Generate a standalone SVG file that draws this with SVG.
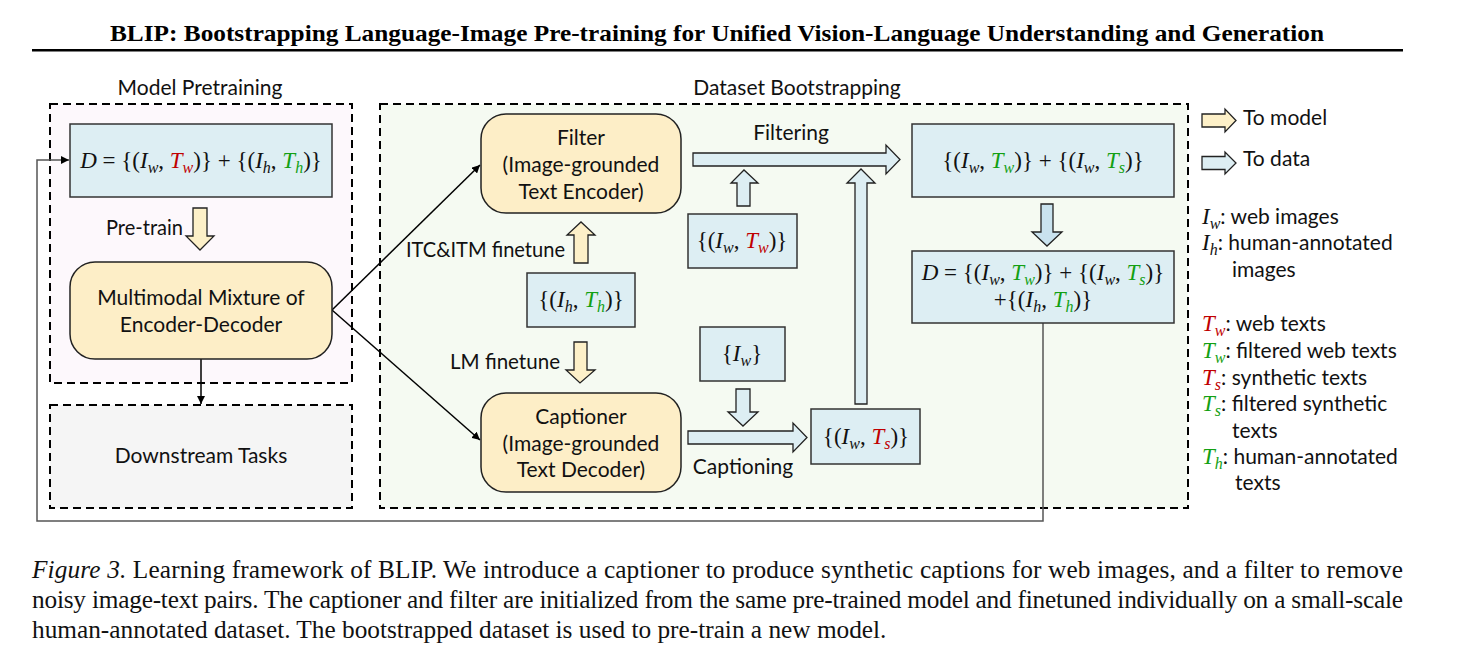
<svg xmlns="http://www.w3.org/2000/svg" width="1468" height="672" viewBox="0 0 1468 672">
<defs>
<style>
.t{font-family:"Lato","Open Sans","Liberation Sans",sans-serif;font-size:21px;fill:#111}
.m{font-family:"Liberation Serif","DejaVu Serif",serif;font-size:23px;fill:#111}
.i{font-style:italic}
.s{font-style:italic;font-size:16px}
.r{fill:#c00000}
.g{fill:#13a013}
.cap{font-family:"Liberation Serif",serif;font-size:25.3px;fill:#111}
.dash{stroke:#000;stroke-width:2;stroke-dasharray:8 5}
.bb{fill:#ddeef3;stroke:#333;stroke-width:1.5}
.yb{fill:#fdeec7;stroke:#222;stroke-width:1.5}
.ya{fill:#fdf0c8;stroke:#222;stroke-width:1.3}
.ba{fill:#ddeef3;stroke:#222;stroke-width:1.3}
.con{fill:none;stroke:#000;stroke-width:1.5}
</style>
<marker id="ah" viewBox="0 0 10 10" refX="10" refY="5" markerWidth="8" markerHeight="8" markerUnits="userSpaceOnUse" orient="auto">
<path d="M0,0 L10,5 L0,10 z" fill="#000"/>
</marker>
</defs>
<rect width="1468" height="672" fill="#fff"/>

<text x="717" y="41" text-anchor="middle" font-family="Liberation Serif, serif" font-weight="bold" font-size="23" textLength="1214" lengthAdjust="spacingAndGlyphs" fill="#000">BLIP: Bootstrapping Language-Image Pre-training for Unified Vision-Language Understanding and Generation</text>
<rect x="32" y="49" width="1371" height="2.5" fill="#000"/>

<!-- group containers -->
<g id="model-pretraining">
<rect x="50" y="104" width="302" height="279" fill="#fdf8fc" class="dash"/>
<text class="t" x="200" y="95" text-anchor="middle">Model Pretraining</text>
</g>
<g id="downstream">
<rect x="50" y="405" width="302" height="103" fill="#f5f5f5" class="dash"/>
<text class="t" x="201" y="463" text-anchor="middle">Downstream Tasks</text>
</g>
<g id="dataset-bootstrapping">
<rect x="380" y="104" width="808" height="404" fill="#f5faf2" class="dash"/>
<text class="t" x="797" y="95" text-anchor="middle">Dataset Bootstrapping</text>
</g>

<!-- connectors -->
<g id="connectors">
<polyline class="con" points="1043,323 1043,521 37,521 37,160 69,160" style="stroke:#555" marker-end="url(#ah)"/>
<line class="con" x1="201" y1="359" x2="201" y2="404" marker-end="url(#ah)"/>
<line class="con" x1="332" y1="310" x2="480" y2="165" marker-end="url(#ah)"/>
<line class="con" x1="332" y1="310" x2="480" y2="440" marker-end="url(#ah)"/>
<!-- block arrows -->
<polygon class="ya" points="193,208 207,208 207,236 214,236 200,250 186,236 193,236"/>
<polygon class="ya" points="574,263 588,263 588,235 595,235 581,222 567,235 574,235"/>
<polygon class="ya" points="574,342 587,342 587,370 595,370 580,383 566,370 574,370"/>
<polygon class="ba" points="693,153 886,153 886,145 900,159.5 886,174 886,166 693,166"/>
<polygon class="ba" points="688,431 793,431 793,423 807,437.5 793,452 793,444 688,444"/>
<polygon class="ba" points="737,206 750,206 750,183 758,183 744,170 731,183 737,183"/>
<polygon class="ba" points="736,389 750,389 750,412 758,412 743,426 728,412 736,412"/>
<polygon class="ba" points="855,404 867,404 867,183 875,183 861,169 847,183 855,183"/>
<polygon class="ba" points="1041,204 1053,204 1053,232 1062,232 1047,246 1032,232 1041,232" style="fill:#c9e2ee"/>
<text class="t" x="106" y="235" textLength="77" lengthAdjust="spacingAndGlyphs">Pre-train</text>
<text class="t" x="406" y="257" textLength="159" lengthAdjust="spacingAndGlyphs">ITC&amp;ITM finetune</text>
<text class="t" x="450" y="369" textLength="110" lengthAdjust="spacingAndGlyphs">LM finetune</text>
<text class="t" x="791" y="140" text-anchor="middle">Filtering</text>
<text class="t" x="743" y="474" text-anchor="middle">Captioning</text>
</g>

<!-- nodes -->
<g id="data-d">
<rect class="bb" x="70" y="124" width="262" height="73"/>
<text class="m" x="201" y="168" text-anchor="middle"><tspan class="i">D</tspan> = {(<tspan class="i">I</tspan><tspan class="s" dy="5">w</tspan><tspan dy="-5">, </tspan><tspan class="i r">T</tspan><tspan class="s r" dy="5">w</tspan><tspan dy="-5">)} + {(</tspan><tspan class="i">I</tspan><tspan class="s" dy="5">h</tspan><tspan dy="-5">, </tspan><tspan class="i g">T</tspan><tspan class="s g" dy="5">h</tspan><tspan dy="-5">)}</tspan></text>
</g>
<g id="mmed">
<rect class="yb" x="70" y="262" width="262" height="97" rx="25"/>
<text class="t" x="201" y="305" text-anchor="middle">Multimodal Mixture of</text>
<text class="t" x="201" y="332" text-anchor="middle">Encoder-Decoder</text>
</g>
<g id="filter">
<rect class="yb" x="481" y="114" width="200" height="99" rx="25"/>
<text class="t" x="581" y="145" text-anchor="middle">Filter</text>
<text class="t" x="581" y="172" text-anchor="middle">(Image-grounded</text>
<text class="t" x="581" y="199" text-anchor="middle">Text Encoder)</text>
</g>
<g id="captioner">
<rect class="yb" x="481" y="393" width="200" height="99" rx="25"/>
<text class="t" x="581" y="424" text-anchor="middle">Captioner</text>
<text class="t" x="581" y="451" text-anchor="middle">(Image-grounded</text>
<text class="t" x="581" y="477" text-anchor="middle">Text Decoder)</text>
</g>
<g id="human-data">
<rect class="bb" x="527" y="273" width="108" height="54"/>
<text class="m" x="581" y="307" text-anchor="middle">{(<tspan class="i">I</tspan><tspan class="s" dy="5">h</tspan><tspan dy="-5">, </tspan><tspan class="i g">T</tspan><tspan class="s g" dy="5">h</tspan><tspan dy="-5">)}</tspan></text>
</g>
<g id="web-data">
<rect class="bb" x="688" y="214" width="109" height="54"/>
<text class="m" x="742" y="248" text-anchor="middle">{(<tspan class="i">I</tspan><tspan class="s" dy="5">w</tspan><tspan dy="-5">, </tspan><tspan class="i r">T</tspan><tspan class="s r" dy="5">w</tspan><tspan dy="-5">)}</tspan></text>
</g>
<g id="web-images">
<rect class="bb" x="700" y="327" width="85" height="54"/>
<text class="m" x="742" y="361" text-anchor="middle">{<tspan class="i">I</tspan><tspan class="s" dy="5">w</tspan><tspan dy="-5">}</tspan></text>
</g>
<g id="synthetic">
<rect class="bb" x="811" y="409" width="109" height="55"/>
<text class="m" x="866" y="444" text-anchor="middle">{(<tspan class="i">I</tspan><tspan class="s" dy="5">w</tspan><tspan dy="-5">, </tspan><tspan class="i r">T</tspan><tspan class="s r" dy="5">s</tspan><tspan dy="-5">)}</tspan></text>
</g>
<g id="filtered">
<rect class="bb" x="912" y="124" width="262" height="73"/>
<text class="m" x="1043" y="168" text-anchor="middle">{(<tspan class="i">I</tspan><tspan class="s" dy="5">w</tspan><tspan dy="-5">, </tspan><tspan class="i g">T</tspan><tspan class="s g" dy="5">w</tspan><tspan dy="-5">)} + {(</tspan><tspan class="i">I</tspan><tspan class="s" dy="5">w</tspan><tspan dy="-5">, </tspan><tspan class="i g">T</tspan><tspan class="s g" dy="5">s</tspan><tspan dy="-5">)}</tspan></text>
</g>
<g id="bootstrapped">
<rect class="bb" x="912" y="251" width="262" height="72"/>
<text class="m" x="1043" y="280" text-anchor="middle"><tspan class="i">D</tspan> = {(<tspan class="i">I</tspan><tspan class="s" dy="5">w</tspan><tspan dy="-5">, </tspan><tspan class="i g">T</tspan><tspan class="s g" dy="5">w</tspan><tspan dy="-5">)} + {(</tspan><tspan class="i">I</tspan><tspan class="s" dy="5">w</tspan><tspan dy="-5">, </tspan><tspan class="i g">T</tspan><tspan class="s g" dy="5">s</tspan><tspan dy="-5">)}</tspan></text>
<text class="m" x="1043" y="307" text-anchor="middle">+{(<tspan class="i">I</tspan><tspan class="s" dy="5">h</tspan><tspan dy="-5">, </tspan><tspan class="i g">T</tspan><tspan class="s g" dy="5">h</tspan><tspan dy="-5">)}</tspan></text>
</g>

<!-- legend -->
<g id="legend">
<polygon class="ya" points="1202,114 1225,114 1225,109 1236,120.5 1225,132 1225,127 1202,127"/>
<text class="t" x="1243" y="125">To model</text>
<polygon class="ba" points="1202,156.5 1225,156.5 1225,152 1236,163 1225,174 1225,169.5 1202,169.5"/>
<text class="t" x="1243" y="166">To data</text>
<text class="t" x="1202" y="224"><tspan class="m i">I</tspan><tspan class="m s" dy="5">w</tspan><tspan dy="-5">: web images</tspan></text>
<text class="t" x="1202" y="250"><tspan class="m i">I</tspan><tspan class="m s" dy="5">h</tspan><tspan dy="-5">: human-annotated</tspan></text>
<text class="t" x="1232" y="277">images</text>
<text class="t" x="1202" y="331"><tspan class="m i r">T</tspan><tspan class="m s r" dy="5">w</tspan><tspan dy="-5">: web texts</tspan></text>
<text class="t" x="1202" y="358"><tspan class="m i g">T</tspan><tspan class="m s g" dy="5">w</tspan><tspan dy="-5">: filtered web texts</tspan></text>
<text class="t" x="1202" y="385"><tspan class="m i r">T</tspan><tspan class="m s r" dy="5">s</tspan><tspan dy="-5">: synthetic texts</tspan></text>
<text class="t" x="1202" y="411"><tspan class="m i g">T</tspan><tspan class="m s g" dy="5">s</tspan><tspan dy="-5">: filtered synthetic</tspan></text>
<text class="t" x="1232" y="438">texts</text>
<text class="t" x="1202" y="464"><tspan class="m i g">T</tspan><tspan class="m s g" dy="5">h</tspan><tspan dy="-5">: human-annotated</tspan></text>
<text class="t" x="1235" y="490">texts</text>
</g>

<!-- caption -->
<text class="cap" x="32" y="578" textLength="1371" lengthAdjust="spacing"><tspan font-style="italic">Figure 3.</tspan> Learning framework of BLIP. We introduce a captioner to produce synthetic captions for web images, and a filter to remove</text>
<text class="cap" x="32" y="608" textLength="1371" lengthAdjust="spacing">noisy image-text pairs. The captioner and filter are initialized from the same pre-trained model and finetuned individually on a small-scale</text>
<text class="cap" x="32" y="638">human-annotated dataset. The bootstrapped dataset is used to pre-train a new model.</text>
</svg>
